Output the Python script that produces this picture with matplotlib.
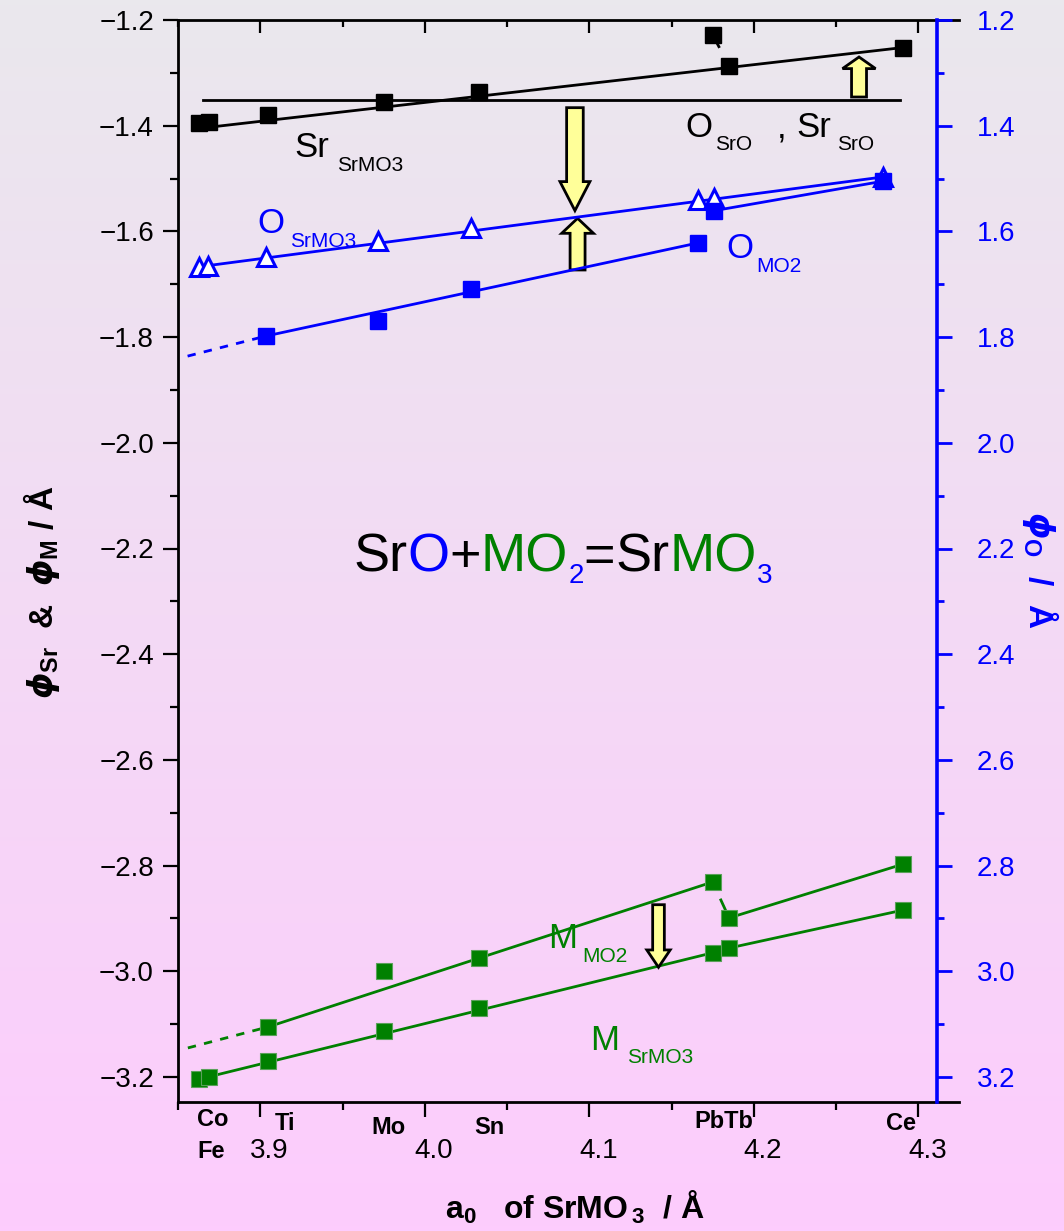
import numpy as np
import matplotlib
matplotlib.use('Agg')
import matplotlib.pyplot as plt
from matplotlib.patches import FancyArrow
from matplotlib.ticker import FixedLocator, FuncFormatter
from matplotlib.transforms import ScaledTranslation, blended_transform_factory

plt.rcParams['font.family'] = ['Liberation Sans', 'DejaVu Sans']
plt.rcParams['mathtext.fontset'] = 'custom'
plt.rcParams['mathtext.rm'] = 'Liberation Sans:bold'
plt.rcParams['mathtext.bf'] = 'Liberation Sans:bold'
plt.rcParams['mathtext.it'] = 'DejaVu Sans:bold:italic'
plt.rcParams['mathtext.default'] = 'rm'

# --------------------------
# data
# --------------------------
elements = ['Fe', 'Co', 'Ti', 'Mo', 'Sn', 'Pb', 'Tb', 'Ce']
a0 = [3.863, 3.869, 3.905, 3.975, 4.033, 4.175, 4.185, 4.291]
a0_mo2 = a0[2:]  # Ti ... Ce

sr_srmo3 = [-1.395, -1.393, -1.380, -1.355, -1.336, -1.228, -1.287, -1.253]
m_srmo3 = [-3.204, -3.200, -3.170, -3.113, -3.069, -2.965, -2.956, -2.884]
m_mo2 = [-3.105, -2.999, -2.975, -2.831, -2.899, -2.797]

# right (blue) axis
o_srmo3 = [1.667, 1.665, 1.648, 1.618, 1.594, 1.541, 1.537, 1.497]
o_mo2 = [1.798, 1.770, 1.709, 1.622, 1.561, 1.505]

# guide lines
sro_x = [3.865, 4.289]
sro_level = -1.351          # O_SrO , Sr_SrO
sr_fit_x = [3.863, 4.291]
sr_fit_y = [-1.405, -1.252]
ext_x = 3.856               # start of the dashed extrapolations
m_mo2_ext = -3.145
o_mo2_ext = 1.836

# bottom axis element labels: name, left x, y (pixels from top)
elem_lbl = ['Co', 'Fe', 'Ti', 'Mo', 'Sn', 'PbTb', 'Ce']
elem_lbl_x = [3.8616, 3.8616, 3.909, 3.9673, 4.0301, 4.1637, 4.2804]
elem_lbl_py = [1120, 1152, 1123, 1127, 1127, 1122, 1123]

# block arrows: x, tail y, tip y, shaft width, head width, head length
arrows = [
    (4.264, -1.3457, -1.270, 0.0091, 0.0201, 0.022),
    (4.0913, -1.3659, -1.5607, 0.0101, 0.0182, 0.0549),
    (4.0929, -1.673, -1.5752, 0.0091, 0.0193, 0.0284),
    (4.1421, -2.874, -2.9924, 0.0071, 0.0142, 0.0328),
]

BLK, BLUE, GRN = 'black', '#0000FF', '#008000'
W, H = 1064, 1231
TICK_FONT = ['Liberation Sans Narrow', 'Liberation Sans', 'DejaVu Sans']

fig = plt.figure(figsize=(W / 100, H / 100), dpi=100)

# background gradient (grey on top -> pink at the bottom)
top_c = np.array([234, 232, 237]) / 255
bot_c = np.array([253, 204, 253]) / 255
t = np.linspace(0, 1, 256)[:, None, None]
grad = top_c * (1 - t) + bot_c * t
bg = fig.add_axes([0, 0, 1, 1], zorder=-10)
bg.imshow(grad, aspect='auto', extent=[0, 1, 0, 1])
bg.axis('off')

x_lim = (3.85, 3.85 + 781 / 1645)
y_lim = (-1.2 - 1082 / 528.5, -1.2)

ax = fig.add_axes([178 / W, 1 - 1102 / H, 781 / W, 1082 / H])
ax.patch.set_visible(False)
ax.set_xlim(*x_lim)
ax.set_ylim(*y_lim)

# blue layer: narrower frame, same x range
axb = fig.add_axes([178 / W, 1 - 1102 / H, 759 / W, 1082 / H])
axb.patch.set_visible(False)
axb.set_xlim(*x_lim)
axb.set_ylim(-y_lim[0], -y_lim[1])

lw = 2.0
ms = 12

# ---- black: Sr in SrMO3
ax.plot(sro_x, [sro_level, sro_level], color=BLK, lw=lw)
ax.plot(sr_fit_x, sr_fit_y, color=BLK, lw=lw)
pb, tb = 5, 6
fr = np.array([0.2, 0.38])
ax.plot(a0[pb] + fr * (a0[tb] - a0[pb]), sr_srmo3[pb] + fr * (sr_srmo3[tb] - sr_srmo3[pb]),
        color=BLK, lw=lw)
ax.plot(a0, sr_srmo3, 's', color=BLK, ms=ms)

# ---- green: M in SrMO3 and MO2
ax.plot([a0[0], a0[pb]], [m_srmo3[0], m_srmo3[pb]], color=GRN, lw=lw)
ax.plot(a0[tb:], m_srmo3[tb:], color=GRN, lw=lw)
ax.plot([ext_x, a0_mo2[0]], [m_mo2_ext, m_mo2[0]], color=GRN, lw=lw, dashes=(3, 3))
ax.plot([a0_mo2[0], a0_mo2[3]], [m_mo2[0], m_mo2[3]], color=GRN, lw=lw)
fr = np.array([0.5, 0.8])
ax.plot(a0_mo2[3] + fr * (a0_mo2[4] - a0_mo2[3]), m_mo2[3] + fr * (m_mo2[4] - m_mo2[3]),
        color=GRN, lw=lw)
ax.plot(a0_mo2[4:], m_mo2[4:], color=GRN, lw=lw)
ax.plot(a0, m_srmo3, 's', color=GRN, ms=ms, mec='#5aa05a', mew=0.8)
ax.plot(a0_mo2, m_mo2, 's', color=GRN, ms=ms, mec='#5aa05a', mew=0.8)

# ---- blue: O in SrMO3 and MO2
axb.plot([a0[0], a0[-1]], [o_srmo3[0], o_srmo3[-1]], color=BLUE, lw=lw)
axb.plot([ext_x, a0_mo2[0]], [o_mo2_ext, o_mo2[0]], color=BLUE, lw=lw, dashes=(3, 3))
axb.plot([a0_mo2[0], a0_mo2[3]], [o_mo2[0], o_mo2[3]], color=BLUE, lw=lw)
axb.plot(a0_mo2[4:], o_mo2[4:], color=BLUE, lw=lw)
axb.plot(a0, o_srmo3, '^', color=BLUE, mfc='white', ms=13, mew=2.2)
axb.plot(a0_mo2, o_mo2, 's', color=BLUE, ms=ms)

# ---- yellow block arrows
for x, y0, y1, sw, hw, hl in arrows:
    ax.add_patch(FancyArrow(x, y0, 0, y1 - y0, width=sw, head_width=hw, head_length=hl,
                            length_includes_head=True, fc='#FFFF99', ec='black', lw=2,
                            zorder=5))

# ---- in-plot labels (text, x, y, size, colour)
labels = [
    ('Sr', 3.9205, -1.4592, 25, BLK), ('SrMO3', 3.9467, -1.4857, 15, BLK),
    ('O', 3.898, -1.603, 25, BLUE), ('SrMO3', 3.9181, -1.6295, 15, BLUE),
    ('O', 4.1582, -1.4214, 25, BLK), ('SrO', 4.1764, -1.446, 15, BLK),
    (',', 4.2141, -1.4214, 25, BLK),
    ('Sr', 4.2257, -1.4214, 25, BLK), ('SrO', 4.2506, -1.446, 15, BLK),
    ('O', 4.1831, -1.6503, 25, BLUE), ('MO2', 4.2014, -1.6768, 15, BLUE),
    ('M', 4.0749, -2.9559, 25, GRN), ('MO2', 4.0956, -2.9824, 15, GRN),
    ('M', 4.1005, -3.149, 25, GRN), ('SrMO3', 4.1229, -3.1735, 15, GRN),
]
for s, x, y, size, c in labels:
    ax.text(x, y, s, fontsize=size, color=c, ha='left', va='baseline', zorder=6)

# ---- SrO+MO2=SrMO3 in colour pieces
formula = [('Sr', BLK, False), ('O', BLUE, False), ('+', BLK, False),
           ('MO', GRN, False), ('2', BLUE, True), ('=', BLK, False),
           ('Sr', BLK, False), ('MO', GRN, False), ('3', BLUE, True)]
first = fig.text(353 / W, 1 - 571.7 / H, formula[0][0], fontsize=39,
                 color=formula[0][1], va='baseline', ha='left')
prev = first
for s, c, sub in formula[1:]:
    if sub:
        prev = ax.annotate(s, xy=(1, 0), xycoords=(prev, first), fontsize=20, color=c,
                           ha='left', va='baseline')
    else:
        prev = ax.annotate(s, xy=(1, 0), xycoords=(prev, first), fontsize=39, color=c,
                           ha='left', va='bottom')

# ---- axes styling
fmt = FuncFormatter(lambda v, p: f'{v:.1f}'.replace('-', '\u2212'))
x_major = np.round(np.arange(3.9, 4.31, 0.1), 2)
x_minor = np.round(np.arange(3.85, 4.3, 0.1), 2)
y_major = np.round(np.arange(-3.2, -1.19, 0.2), 1)
y_minor = np.round(np.arange(-3.1, -1.29, 0.2), 1)

for side in ['top', 'right']:
    ax.spines[side].set_visible(False)
for side in ['left', 'bottom']:
    ax.spines[side].set_linewidth(2)

ax.xaxis.set_major_locator(FixedLocator(x_major))
ax.xaxis.set_minor_locator(FixedLocator(x_minor))
ax.xaxis.set_major_formatter(fmt)
ax.yaxis.set_major_locator(FixedLocator(y_major))
ax.yaxis.set_minor_locator(FixedLocator(y_minor))
ax.yaxis.set_major_formatter(fmt)
ax.tick_params(which='major', direction='out', length=10.8, width=1.6, labelsize=20)
ax.tick_params(which='minor', direction='out', length=5.8, width=1.6)
ax.tick_params(axis='y', which='major', pad=6.5)
ax.tick_params(axis='x', which='major', pad=15)
for lab in ax.get_xticklabels():
    lab.set_transform(lab.get_transform() + ScaledTranslation(0.09, 0, fig.dpi_scale_trans))
for lab in ax.get_xticklabels() + ax.get_yticklabels():
    lab.set_fontfamily(TICK_FONT)

sec = ax.secondary_xaxis('top')
sec.spines['top'].set_linewidth(2)
sec.xaxis.set_major_locator(FixedLocator(x_major))
sec.xaxis.set_minor_locator(FixedLocator(x_minor))
sec.tick_params(which='major', direction='in', length=9.4, width=1.6, labeltop=False)
sec.tick_params(which='minor', direction='in', length=5, width=1.6)

axb.xaxis.set_visible(False)
for side in ['top', 'bottom', 'left']:
    axb.spines[side].set_visible(False)
axb.spines['right'].set_color(BLUE)
axb.spines['right'].set_linewidth(2.6)
axb.yaxis.tick_right()
axb.yaxis.set_major_locator(FixedLocator(-y_major))
axb.yaxis.set_minor_locator(FixedLocator(-y_minor))
axb.yaxis.set_major_formatter(fmt)
axb.tick_params(which='major', direction='out', length=10.8, width=2, color=BLUE,
                labelcolor=BLUE, labelsize=20, pad=18)
axb.tick_params(which='minor', direction='out', length=5, width=2, color=BLUE)
for lab in axb.get_yticklabels():
    lab.set_fontfamily(TICK_FONT)

# element names under the bottom axis
tr = blended_transform_factory(ax.transData, fig.transFigure)
for s, x, py in zip(elem_lbl, elem_lbl_x, elem_lbl_py):
    ax.text(x, 1 - py / H, s, transform=tr, fontsize=17, fontweight='bold',
            family=TICK_FONT, ha='left', va='center', clip_on=False)

# axis titles
fig.text(575 / W, 1 - 1207 / H, r'$a_{0}$   of SrMO$_{\,3}$  / Å', fontsize=23,
         fontweight='bold', ha='center', va='center')
fig.text(42 / W, 1 - 592 / H, r'$\mathit{\phi}_{\mathrm{Sr}}$  &  $\mathit{\phi}_{\mathrm{M}}$ / Å',
         fontsize=24, fontweight='bold', rotation=90, ha='center', va='center')
fig.text(1040 / W, 1 - 570 / H, r'$\mathit{\phi}_{\mathrm{O}}$  /  Å', fontsize=24,
         fontweight='bold', color=BLUE, rotation=270, ha='center', va='center')

fig.savefig('out.png', dpi=100)
